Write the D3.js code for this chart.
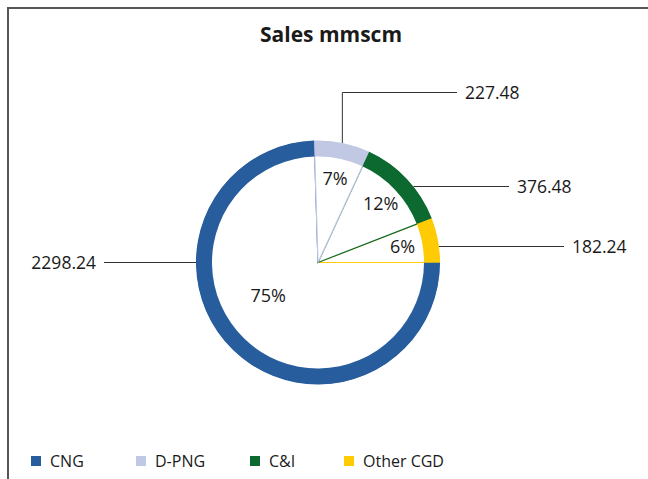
<!DOCTYPE html>
<html>
<head>
<meta charset="utf-8">
<script src="https://cdn.jsdelivr.net/npm/d3@7"></script>
<style>
  html, body { margin: 0; padding: 0; background: #fff; }
  svg text { font-family: "Open Sans", "Noto Sans", sans-serif; fill: #1a1a1a; }
</style>
</head>
<body>
<div id="chart"></div>
<script>
// data
const categories = ["CNG", "D-PNG", "C&I", "Other CGD"];
const sales = [2298.24, 227.48, 376.48, 182.24];
const colors = ["#285d9d", "#c1c8e4", "#0c6a31", "#ffcb05"];
const title = "Sales mmscm";

// layout
const W = 648, H = 479;
const cx = 318, cy = 262.5;
const rOuter = 122, rInner = 106;

// value label placement (relative to centre): anchor, x, y, elbow
const valueLabels = [
  { anchor: "end",   x: -222, y: 0,    elbow: false },
  { anchor: "start", x: 147,  y: -170, elbow: true },
  { anchor: "start", x: 199,  y: -76,  elbow: false },
  { anchor: "start", x: 254,  y: -16,  elbow: false }
];

const rows = categories.map((c, i) => ({ name: c, value: sales[i], color: colors[i], i }));
const total = d3.sum(sales);

const svg = d3.select("#chart").append("svg")
  .attr("width", W)
  .attr("height", H);

// 边框：左边和上边
svg.append("path")
  .attr("d", `M8,${H} V8 H${W}`)
  .attr("fill", "none")
  .attr("stroke", "#555")
  .attr("stroke-width", 2);

svg.append("text")
  .attr("x", 331)
  .attr("y", 42)
  .attr("text-anchor", "middle")
  .style("font-size", "21px")
  .style("font-weight", "bold")
  .text(title);

// CNG 从 3 点钟方向开始
const pie = d3.pie().sort(null).value(d => d.value)
  .startAngle(Math.PI / 2)
  .endAngle(Math.PI / 2 + 2 * Math.PI);
const arcs = pie(rows);

const g = svg.append("g").attr("transform", `translate(${cx},${cy})`);

// 内部扇形（白底，彩色边）
const wedge = d3.arc().innerRadius(0).outerRadius(rOuter - 1);
const drawOrder = [0, 3, 2, 1];
g.selectAll("path.wedge")
  .data(drawOrder.map(k => arcs[k]))
  .join("path")
  .attr("class", "wedge")
  .attr("d", wedge)
  .attr("fill", "#fff")
  .attr("stroke", d => d.data.color)
  .attr("stroke-width", 1.2);

// 外环
const ring = d3.arc().innerRadius(rInner).outerRadius(rOuter);
g.selectAll("path.ring")
  .data(arcs)
  .join("path")
  .attr("class", "ring")
  .attr("d", ring)
  .attr("fill", d => d.data.color);

// 百分比标签（大扇区的标签靠近中心、稍微偏转）
arcs.forEach(a => {
  const big = a.endAngle - a.startAngle > Math.PI;
  const r = big ? 60 : 86;
  const mid = (a.startAngle + a.endAngle) / 2 + (big ? 0.21 : 0);
  g.append("text")
    .attr("x", Math.sin(mid) * r)
    .attr("y", -Math.cos(mid) * r)
    .attr("dy", "0.35em")
    .attr("text-anchor", "middle")
    .style("font-size", "18px")
    .text(Math.round(a.data.value / total * 100) + "%");
});

// 数值标签和引导线
arcs.forEach((a, i) => {
  const L = valueLabels[i];
  const dir = L.anchor === "end" ? -1 : 1;
  const lineEnd = L.x - dir * 8;
  let pts;
  if (L.elbow) {
    const mid = (a.startAngle + a.endAngle) / 2;
    const sx = Math.sin(mid) * rOuter, sy = -Math.cos(mid) * rOuter;
    pts = [[sx, sy], [sx, L.y], [lineEnd, L.y]];
  } else {
    const sx = dir * Math.sqrt(rOuter * rOuter - L.y * L.y);
    pts = [[sx, L.y], [lineEnd, L.y]];
  }
  g.append("path")
    .attr("d", d3.line()(pts))
    .attr("fill", "none")
    .attr("stroke", "#333")
    .attr("stroke-width", 1);
  g.append("text")
    .attr("x", L.x)
    .attr("y", L.y)
    .attr("dy", "0.35em")
    .attr("text-anchor", L.anchor)
    .style("font-size", "17.5px")
    .text(d3.format(".2f")(a.data.value));
});

// 图例
const legendX = [31, 136, 250, 344];
const legend = svg.append("g").attr("transform", "translate(0,461)");
rows.forEach((d, i) => {
  legend.append("rect")
    .attr("x", legendX[i])
    .attr("y", -5)
    .attr("width", 10)
    .attr("height", 10)
    .attr("fill", d.color);
  legend.append("text")
    .attr("x", legendX[i] + 19)
    .attr("y", 0)
    .attr("dy", "0.35em")
    .style("font-size", "16px")
    .text(d.name);
});
</script>
</body>
</html>
